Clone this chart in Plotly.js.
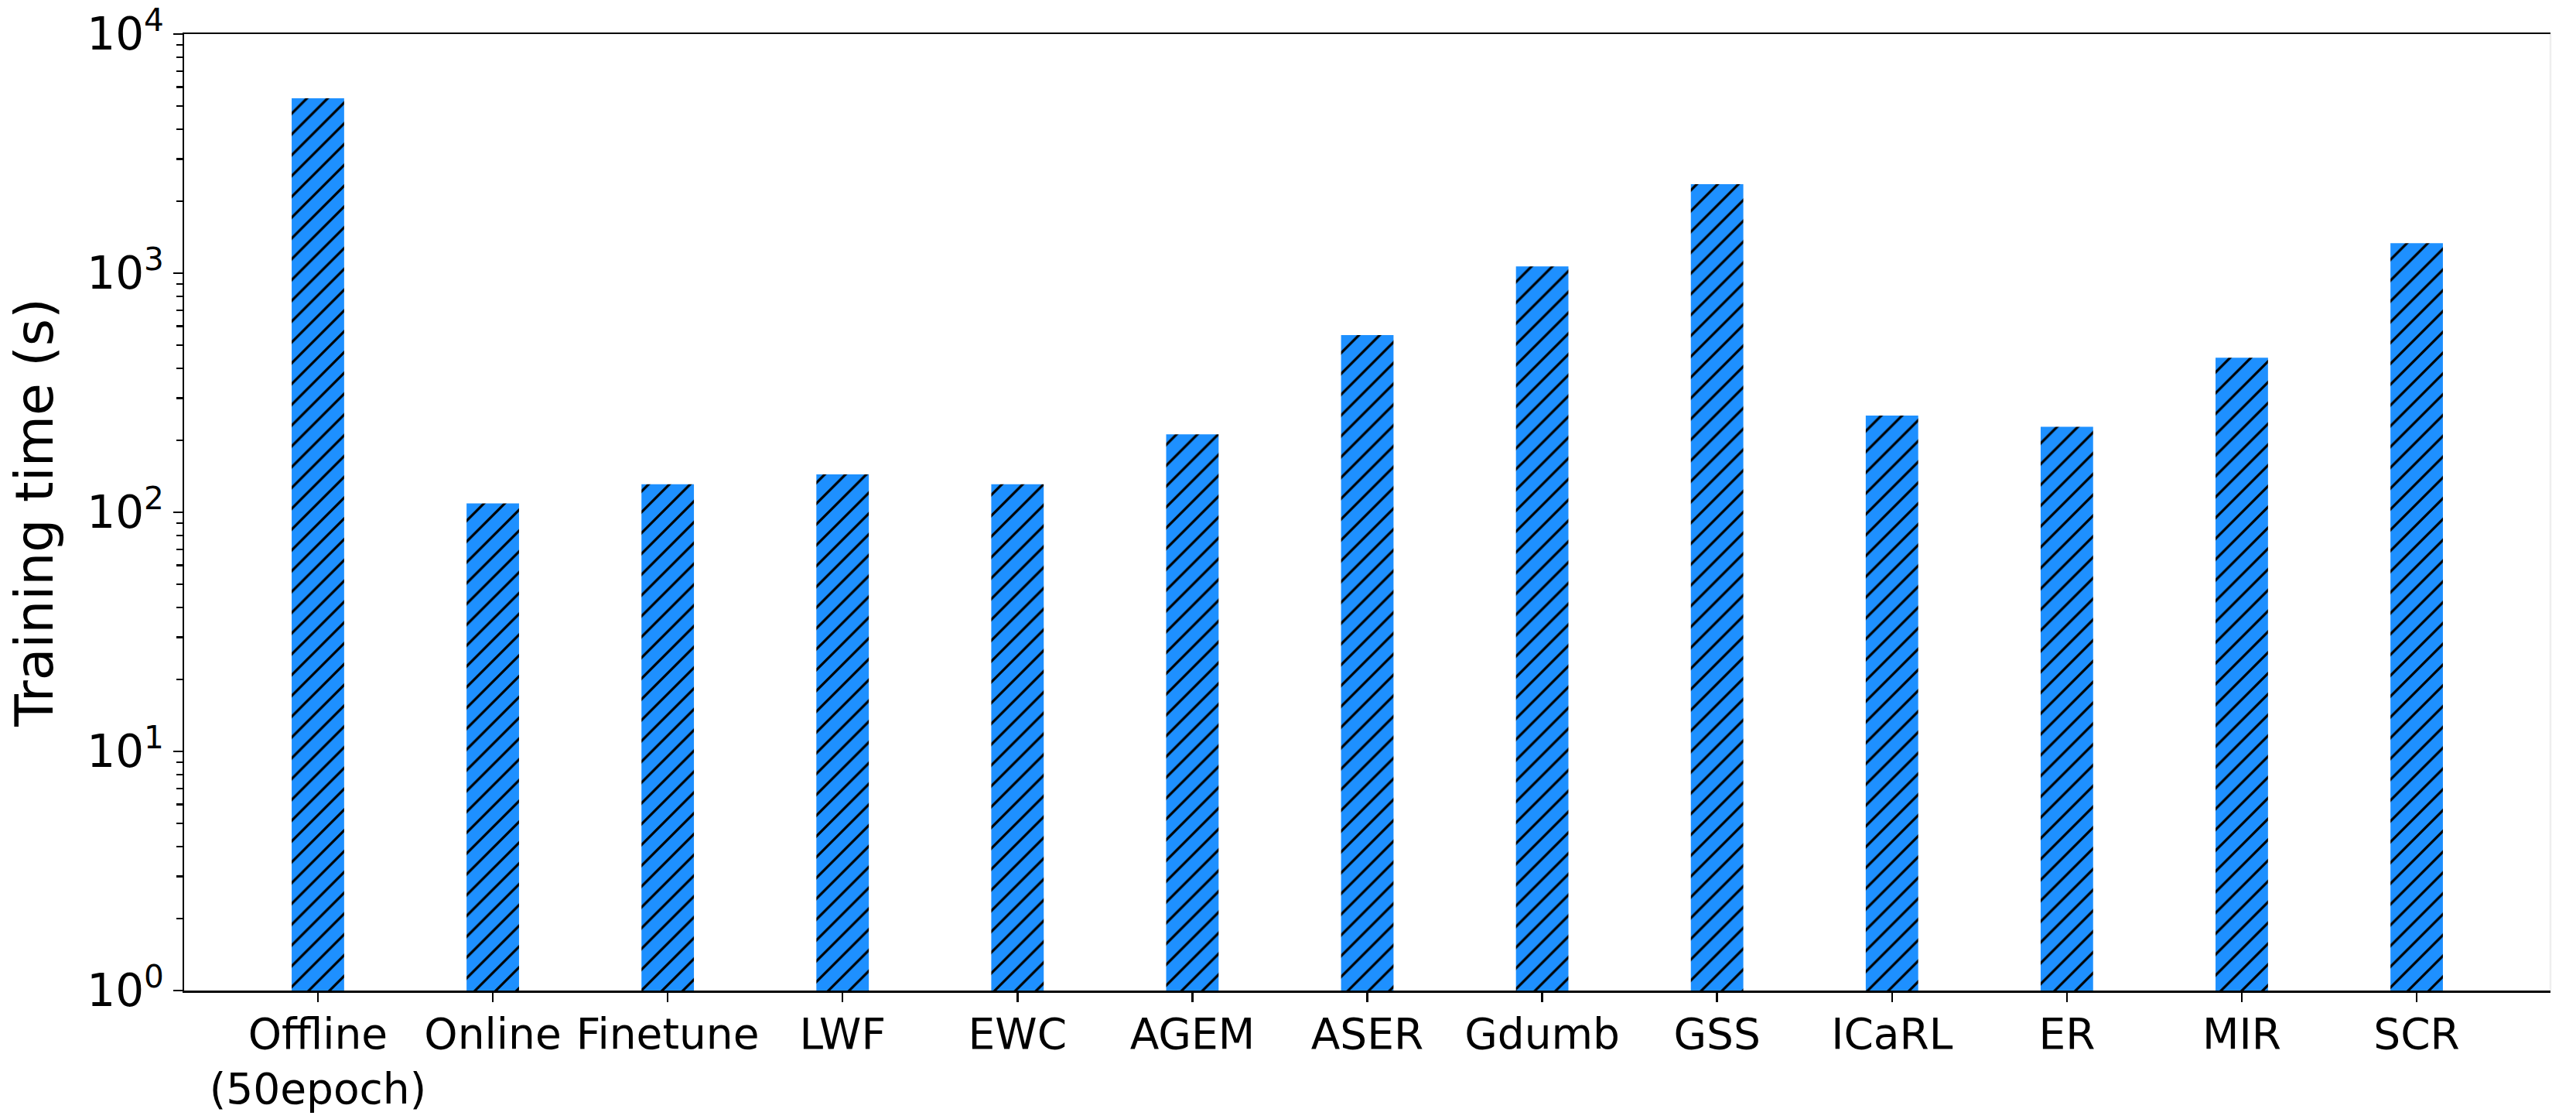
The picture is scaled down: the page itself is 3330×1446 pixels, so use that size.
<!DOCTYPE html>
<html>
<head>
<meta charset="utf-8">
<script src="https://cdn.plot.ly/plotly-3.0.1.min.js"></script>
<style>html,body{margin:0;padding:0;background:#fff;}#chart{width:3330px;height:1446px;}</style>
</head>
<body>
<div id="chart"></div>
<script>
// Data
const categories = ['Offline<br>(50epoch)', 'Online', 'Finetune', 'LWF', 'EWC', 'AGEM', 'ASER', 'Gdumb', 'GSS', 'ICaRL', 'ER', 'MIR', 'SCR'];
const trainingTime = [5390, 109, 131, 144, 131, 212, 551, 1067, 2358, 254, 228, 443, 1334];
const yTickVals = [1, 10, 100, 1000, 10000];
const yTickText = ['10<sup>0</sup>', '10<sup>1</sup>', '10<sup>2</sup>', '10<sup>3</sup>', '10<sup>4</sup>'];
const yTitle = 'Training time (s)';

// minor log ticks (2..9 within each decade)
const minorVals = [];
for (let d = 0; d < yTickVals.length - 1; d++) {
  for (let k = 2; k <= 9; k++) minorVals.push(k * yTickVals[d]);
}

const FONT = 'DejaVu Sans, Liberation Sans, sans-serif';

const trace = {
  type: 'bar',
  x: categories,
  y: trainingTime,
  width: 0.3,
  marker: {
    color: '#1E90FF',
    line: {width: 0},
    pattern: {shape: '/', size: 19, solidity: 0.17, fgcolor: '#000000', fgopacity: 1, fillmode: 'overlay'}
  },
  hoverinfo: 'x+y'
};

const layout = {
  width: 3330,
  height: 1446,
  margin: {l: 238, r: 33, t: 44, b: 166, pad: 0},
  paper_bgcolor: '#ffffff',
  plot_bgcolor: '#ffffff',
  showlegend: false,
  font: {family: FONT, color: '#000000', size: 55},
  xaxis: {
    type: 'category',
    range: [-0.765, 12.765],
    showline: true,
    linecolor: '#000000',
    linewidth: 2.5,
    mirror: true,
    showgrid: false,
    zeroline: false,
    ticks: 'outside',
    ticklen: 12,
    tickwidth: 2.5,
    tickcolor: '#000000',
    tickangle: 0,
    ticklabelstandoff: -6,
    tickfont: {family: FONT, size: 55, color: '#000000'},
    automargin: false
  },
  yaxis: {
    type: 'log',
    range: [0, 4],
    tickmode: 'array',
    tickvals: yTickVals,
    ticktext: yTickText,
    showline: true,
    linecolor: '#000000',
    linewidth: 2.5,
    showgrid: false,
    zeroline: false,
    ticks: 'outside',
    ticklen: 12,
    tickwidth: 2.5,
    tickcolor: '#000000',
    ticklabelstandoff: 0,
    tickfont: {family: FONT, size: 58, color: '#000000'},
    minor: {tickmode: 'array', tickvals: minorVals, ticks: 'outside', ticklen: 8, tickwidth: 2.5, tickcolor: '#000000', showgrid: false},
    title: {text: yTitle, font: {family: FONT, size: 68, color: '#000000'}, standoff: 22},
    automargin: false
  },
  shapes: [
    {type: 'line', xref: 'paper', yref: 'paper', x0: 1, x1: 1, y0: 0, y1: 1, line: {color: '#eeeeee', width: 2.5}}
  ]
};

Plotly.newPlot('chart', [trace], layout, {displayModeBar: false, staticPlot: true});
</script>
</body>
</html>
